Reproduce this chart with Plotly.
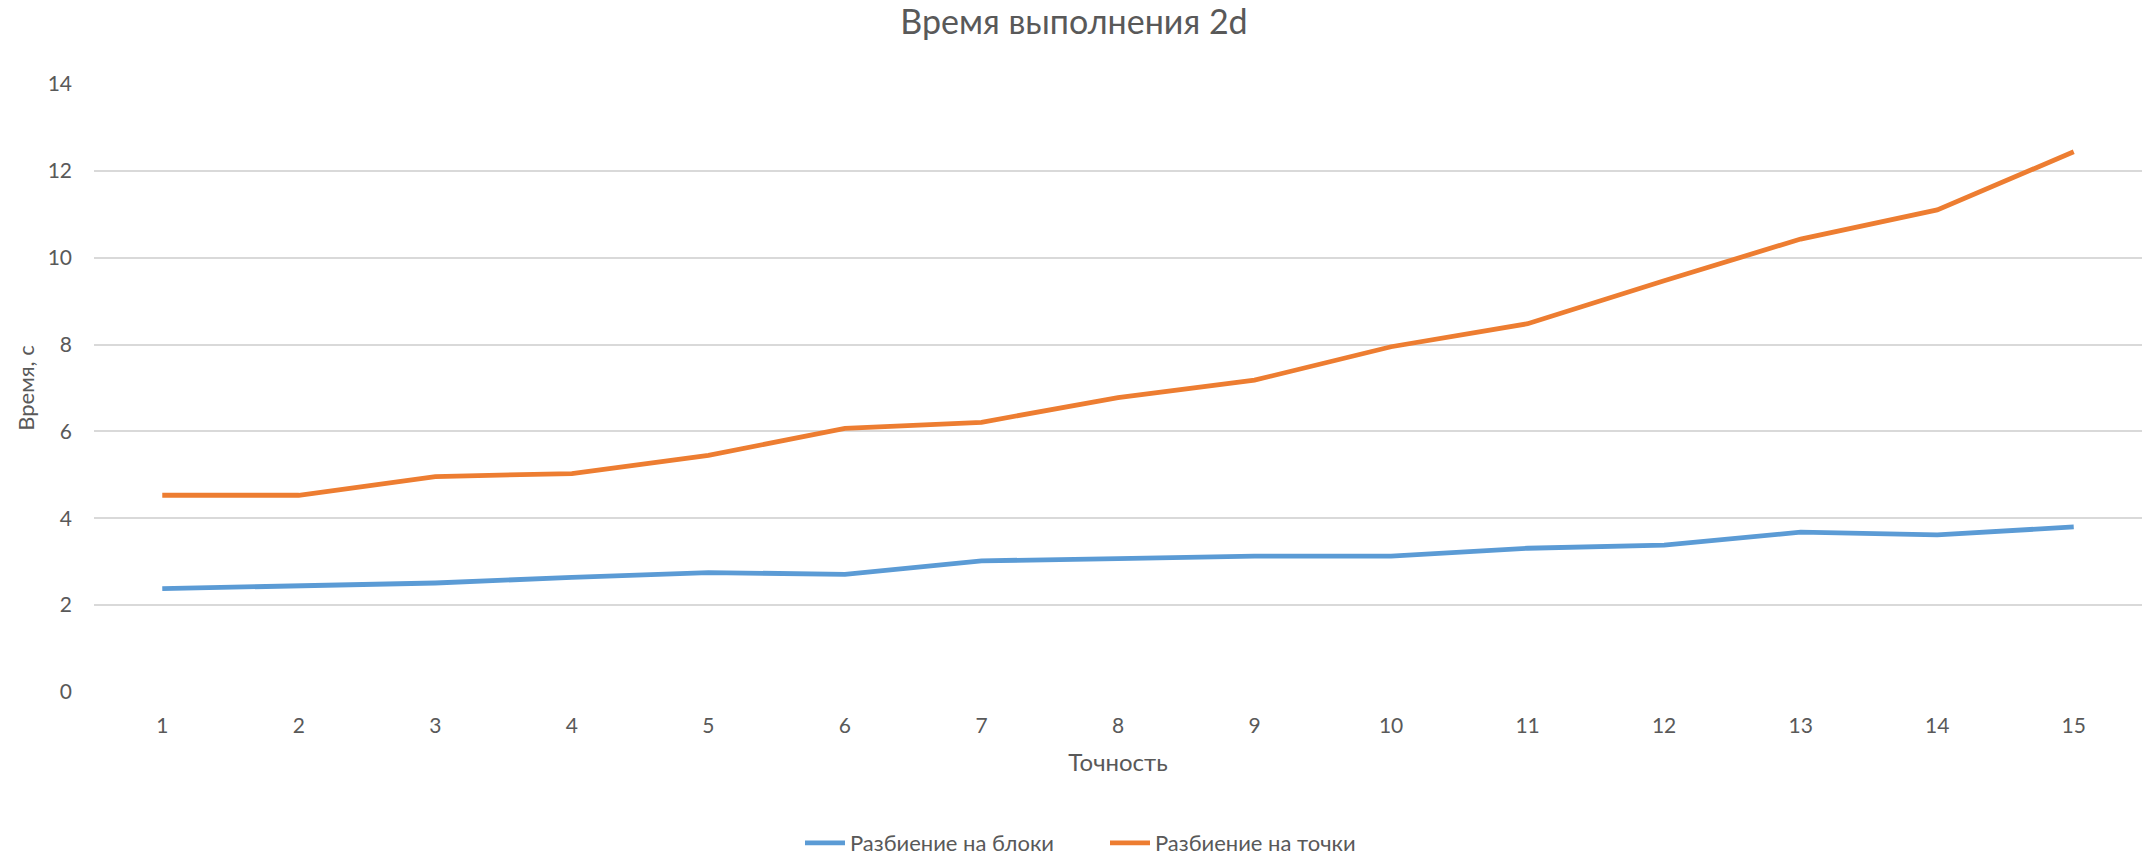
import plotly.graph_objects as go

categories = [str(i) for i in range(1, 16)]
blocks = [2.38, 2.44, 2.51, 2.64, 2.75, 2.71, 3.02, 3.07, 3.13, 3.13, 3.31, 3.38, 3.68, 3.62, 3.80]
points = [4.53, 4.53, 4.96, 5.03, 5.45, 6.07, 6.21, 6.78, 7.18, 7.95, 8.48, 9.47, 10.43, 11.10, 12.44]
y_ticks = [0, 2, 4, 6, 8, 10, 12, 14]

title_text = "Время выполнения 2d"
x_title = "Точность"
y_title = "Время, с"
names = ["Разбиение на блоки", "Разбиение на точки"]

FONT = "Lato"
TXT = "#595959"

fig = go.Figure()
fig.add_trace(go.Scatter(x=categories, y=blocks, mode="lines", name=names[0],
                         line=dict(color="#5B9BD5", width=4.8)))
fig.add_trace(go.Scatter(x=categories, y=points, mode="lines", name=names[1],
                         line=dict(color="#ED7D31", width=4.8)))

fig.update_layout(
    width=2148, height=855,
    margin=dict(l=94, r=6, t=84, b=163, autoexpand=False),
    paper_bgcolor="white", plot_bgcolor="white",
    font=dict(family=FONT, color=TXT, size=21),
    title=dict(text=title_text, x=0.5, xanchor="center", y=1 - 22 / 855, yanchor="middle",
               font=dict(family=FONT, size=34, color=TXT)),
    showlegend=True,
    legend=dict(orientation="h", x=(1105 - 94) / 2048, xanchor="center",
                y=(692 - 843) / 608, yanchor="middle",
                font=dict(family=FONT, size=22, color=TXT), itemwidth=40,
                entrywidth=250, bgcolor="rgba(0,0,0,0)"),
    xaxis=dict(type="category", range=[-0.5, 14.5], showgrid=False, zeroline=False,
               showline=False, ticks="", tickfont=dict(size=21, color=TXT),
               ticklabelstandoff=19, automargin=False,
               title=dict(text=x_title, font=dict(size=24, color=TXT), standoff=18)),
    yaxis=dict(range=[0, 14], tickvals=y_ticks, showgrid=True, gridcolor="#D9D9D9", gridwidth=2,
               zeroline=False, showline=False, ticks="", tickfont=dict(size=21, color=TXT),
               ticklabelstandoff=21, automargin=False,
               title=dict(text=y_title, font=dict(size=22, color=TXT), standoff=6)),
)

fig.write_html(
    "out.html",
    config={"displayModeBar": False},
    post_script="document.body.style.margin='0';document.body.style.overflow='hidden';",
)
